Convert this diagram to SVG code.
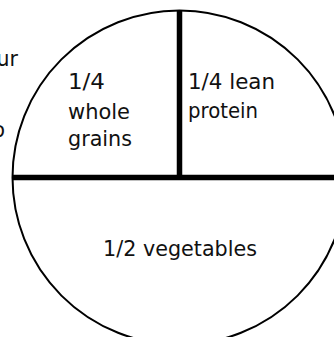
<svg xmlns="http://www.w3.org/2000/svg" width="334" height="337" viewBox="0 0 334 337">
<style>
text{font-family:"DejaVu Sans","Liberation Sans",Arial,sans-serif;font-size:20.5px;fill:#111}
.div{stroke:#000;stroke-width:5.5;fill:none}
</style>
<rect width="334" height="337" fill="#fff"/>
<g id="outside-text">
<text x="-3.5" y="66">ur</text>
<text x="-7.5" y="137">o</text>
</g>
<g id="plate">
<circle cx="179.5" cy="177.5" r="167" fill="none" stroke="#000" stroke-width="2"/>
</g>
<g id="connectors">
<line class="div" x1="13" y1="177.5" x2="334" y2="177.5"/>
<line class="div" x1="179.5" y1="10" x2="179.5" y2="177.5"/>
</g>
<g id="grains">
<text x="68" y="89" textLength="37" lengthAdjust="spacingAndGlyphs">1/4</text>
<text x="68" y="119" textLength="62" lengthAdjust="spacingAndGlyphs">whole</text>
<text x="68" y="146" textLength="64" lengthAdjust="spacingAndGlyphs">grains</text>
</g>
<g id="protein">
<text x="188" y="89" textLength="87" lengthAdjust="spacingAndGlyphs">1/4 lean</text>
<text x="188" y="118" textLength="70" lengthAdjust="spacingAndGlyphs">protein</text>
</g>
<g id="vegetables">
<text x="103" y="256" textLength="154" lengthAdjust="spacingAndGlyphs">1/2 vegetables</text>
</g>
</svg>
